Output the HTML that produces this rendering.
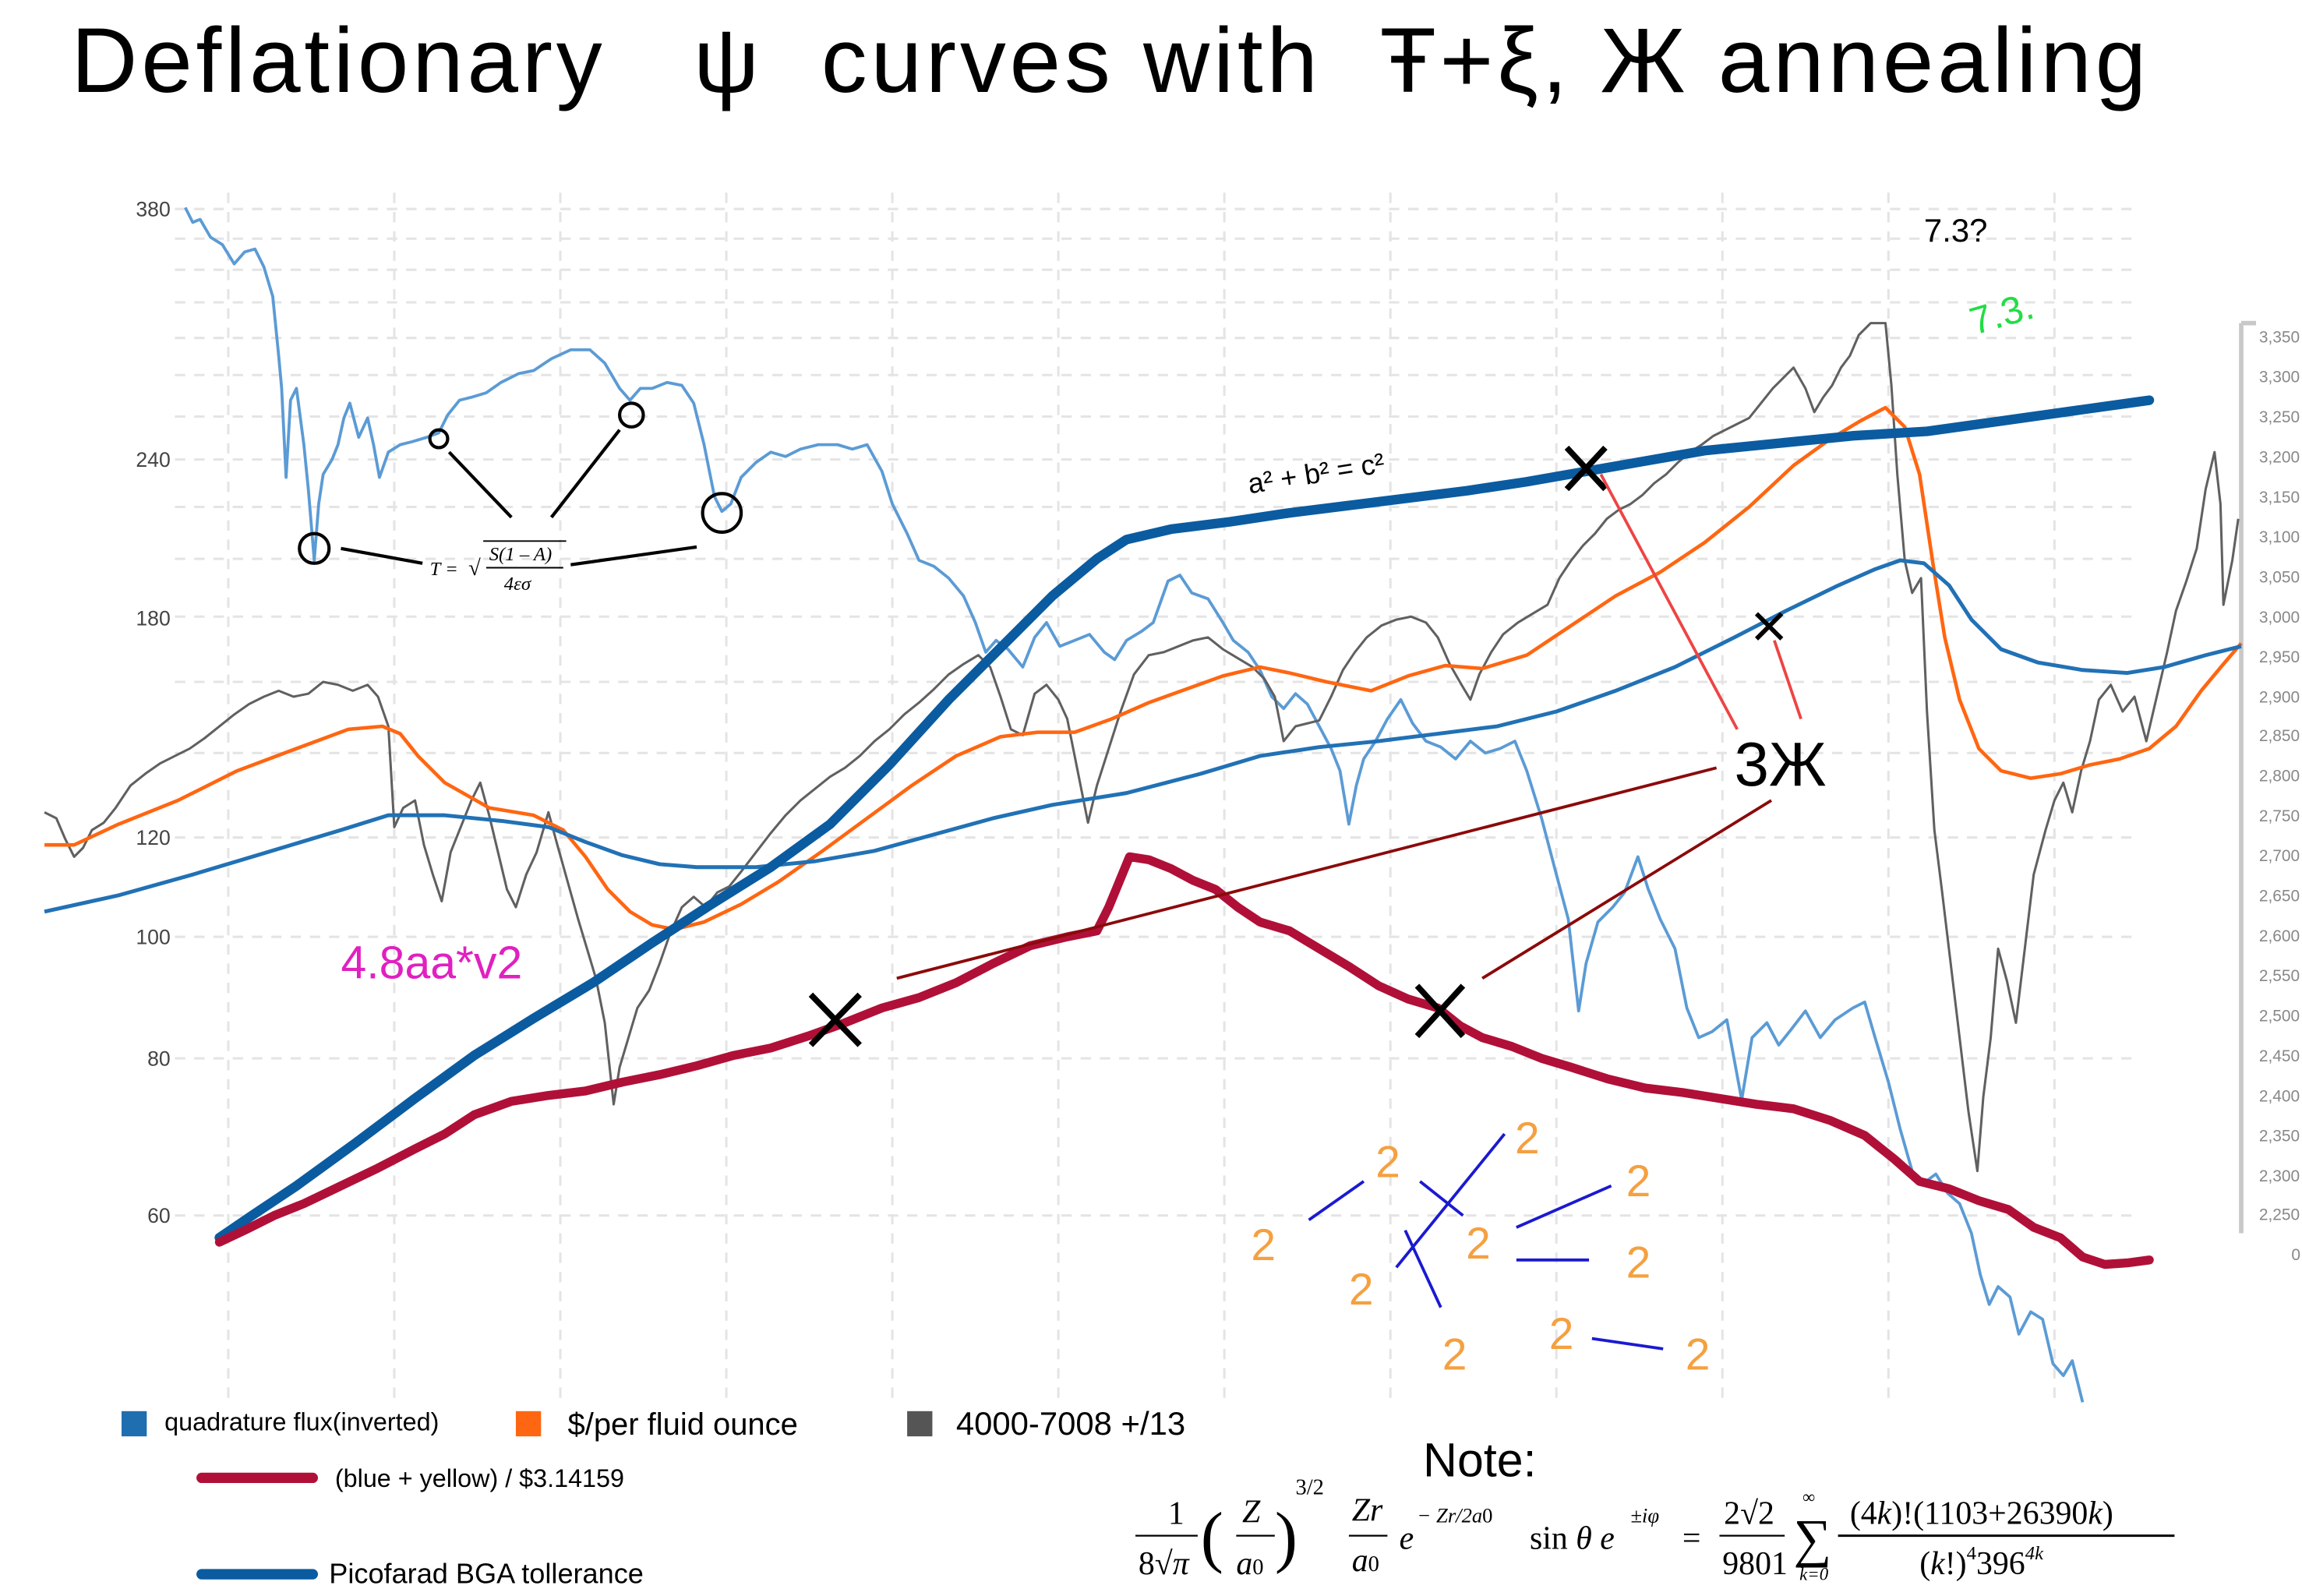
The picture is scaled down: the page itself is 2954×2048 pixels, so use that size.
<!DOCTYPE html>
<html><head><meta charset="utf-8"><style>
html,body{margin:0;padding:0;background:#fff;}
svg{display:block;}
</style></head><body>
<svg width="2954" height="2048" viewBox="0 0 1553 1076.7" xmlns="http://www.w3.org/2000/svg" font-family="'Liberation Sans', 'DejaVu Sans', sans-serif">
<rect width="1553" height="1077" fill="#fff"/>
<text x="48" y="62" font-size="62" fill="#000" xml:space="preserve" textLength="1400" lengthAdjust="spacing" style="white-space:pre">Deflationary   ψ  curves with  Ŧ+ξ, Ж annealing</text>

<g stroke="#e4e4e4" stroke-width="1.6" stroke-dasharray="7,6" fill="none">
<path d="M118 141H1440M118 161H1440M118 182H1440M118 204H1440M118 228H1440M118 253H1440M118 281H1440M118 310H1440M118 342H1440M118 377H1440M118 416H1440M118 460H1440M118 508H1440M118 565H1440M118 632H1440M118 714H1440M118 820H1440"/>
<path d="M154 130V945M266 130V945M378 130V945M490 130V945M602 130V945M714 130V945M826 130V945M938 130V945M1050 130V945M1162 130V945M1274 130V945M1386 130V945"/>
</g>

<g font-size="14" fill="#444" text-anchor="end">
<text x="115" y="146">380</text><text x="115" y="315">240</text><text x="115" y="422">180</text>
<text x="115" y="570">120</text><text x="115" y="637">100</text><text x="115" y="719">80</text><text x="115" y="825">60</text>
</g>

<path d="M1512 218V832M1512 218H1522" stroke="#c8c8c8" stroke-width="3" fill="none"/>
<g font-size="11" fill="#888">
<text x="1524" y="231">3,350</text><text x="1524" y="258">3,300</text><text x="1524" y="285">3,250</text><text x="1524" y="312">3,200</text><text x="1524" y="339">3,150</text><text x="1524" y="366">3,100</text><text x="1524" y="393">3,050</text><text x="1524" y="420">3,000</text><text x="1524" y="447">2,950</text><text x="1524" y="474">2,900</text><text x="1524" y="500">2,850</text><text x="1524" y="527">2,800</text><text x="1524" y="554">2,750</text><text x="1524" y="581">2,700</text><text x="1524" y="608">2,650</text><text x="1524" y="635">2,600</text><text x="1524" y="662">2,550</text><text x="1524" y="689">2,500</text><text x="1524" y="716">2,450</text><text x="1524" y="743">2,400</text><text x="1524" y="770">2,350</text><text x="1524" y="797">2,300</text><text x="1524" y="823">2,250</text><text x="1552" y="850" text-anchor="end">0</text>
</g>

<!-- light blue -->
<polyline fill="none" stroke="#5b9bd5" stroke-width="2" stroke-linejoin="round" points="125,140 130,150 135,148 142,160 150,165 158,178 165,170 172,168 178,180 184,200 188,240 190,262 193,322 196,270 200,262 205,300 208,330 212,378 215,340 218,320 224,310 228,300 232,282 236,272 242,295 248,282 252,300 256,322 262,305 270,300 278,298 288,295 296,292 302,280 310,270 318,268 328,265 338,258 350,252 360,250 372,242 385,236 398,236 408,245 418,262 425,270 432,262 440,262 450,258 460,260 468,272 475,300 482,335 487,345 493,340 500,322 510,312 520,305 530,308 540,303 552,300 565,300 575,303 585,300 595,318 602,340 612,360 620,378 630,382 640,390 650,402 658,420 665,440 672,432 680,438 690,450 698,430 706,420 715,436 725,432 735,428 745,440 752,445 760,432 770,426 778,420 788,392 796,388 804,400 815,404 825,420 832,432 842,440 850,452 858,470 866,478 874,468 882,475 890,490 898,505 904,520 910,556 915,530 920,512 928,500 936,485 945,472 953,488 962,500 972,504 982,512 992,500 1002,508 1012,505 1022,500 1030,520 1040,552 1050,590 1058,620 1065,682 1070,650 1078,622 1088,612 1096,602 1105,578 1112,600 1120,620 1130,640 1138,680 1146,700 1155,696 1165,688 1175,742 1182,700 1192,690 1200,705 1208,695 1218,682 1228,700 1238,688 1250,680 1258,676 1265,700 1274,730 1282,762 1290,790 1298,798 1306,792 1314,805 1322,812 1330,832 1336,860 1342,880 1348,868 1356,875 1362,900 1370,885 1378,890 1385,920 1392,928 1398,918 1405,946"/>

<!-- gray -->
<polyline fill="none" stroke="#606060" stroke-width="1.6" stroke-linejoin="round" points="30,548 38,552 44,566 50,578 56,572 62,560 70,555 78,545 88,530 98,522 108,515 118,510 128,505 138,498 148,490 158,482 168,475 178,470 188,466 198,470 208,468 218,460 228,462 238,466 248,462 255,470 262,490 266,558 272,545 280,540 286,570 292,590 298,608 304,575 310,560 318,540 324,528 330,550 336,575 342,600 348,612 355,590 362,575 370,548 376,570 383,595 390,620 396,640 402,660 408,690 414,745 418,720 424,700 430,680 438,668 445,650 452,630 460,612 468,605 476,612 484,602 492,598 500,588 510,575 520,562 530,550 540,540 550,532 560,524 570,518 580,510 590,500 600,492 610,482 620,474 630,465 640,455 650,448 660,442 668,450 675,470 682,492 690,496 698,468 706,462 714,472 720,485 727,520 734,555 740,530 748,505 756,480 765,455 775,442 785,440 795,436 805,432 815,430 825,438 835,444 845,450 853,458 860,470 866,500 874,490 882,488 890,486 898,470 906,452 914,440 922,430 932,422 942,418 952,416 962,420 970,430 978,448 986,462 992,472 998,455 1006,440 1014,428 1024,420 1034,414 1044,408 1052,390 1060,378 1068,368 1076,360 1084,350 1092,344 1100,340 1108,334 1116,326 1124,320 1132,312 1140,305 1148,300 1156,294 1164,290 1172,286 1180,282 1188,272 1196,262 1204,254 1210,248 1218,262 1224,278 1230,268 1236,260 1242,248 1248,240 1254,226 1262,218 1272,218 1276,260 1280,320 1285,378 1290,400 1296,390 1300,480 1305,560 1310,600 1316,650 1322,700 1328,750 1334,790 1338,740 1343,700 1348,640 1354,662 1360,690 1366,640 1372,590 1380,560 1386,540 1392,528 1398,548 1404,520 1410,500 1416,472 1424,462 1432,480 1440,470 1448,500 1455,470 1462,440 1468,412 1475,392 1482,370 1488,330 1494,305 1498,340 1500,408 1506,378 1510,350"/>

<!-- orange -->
<polyline fill="none" stroke="#ff6611" stroke-width="2.4" stroke-linejoin="round" points="30,570 50,570 80,556 120,540 160,520 200,505 235,492 258,490 270,495 282,510 300,528 330,545 360,550 380,560 395,578 410,600 425,615 440,624 455,627 475,622 500,610 525,595 555,574 585,552 615,530 645,510 675,497 700,494 725,494 750,485 775,474 800,465 825,456 850,450 870,454 895,460 925,466 950,456 975,449 1000,451 1030,442 1060,422 1090,402 1120,386 1150,366 1180,342 1210,314 1235,296 1255,284 1272,275 1285,288 1295,320 1304,380 1312,430 1322,472 1335,505 1350,520 1370,525 1390,522 1410,516 1430,512 1450,505 1468,490 1485,466 1500,448 1512,434"/>

<!-- dark blue thin -->
<polyline fill="none" stroke="#2171b5" stroke-width="2.6" stroke-linejoin="round" points="30,615 80,604 130,590 180,575 230,560 262,550 300,550 340,554 370,558 395,568 420,577 445,583 470,585 510,585 550,581 590,574 630,563 670,552 710,543 760,535 810,522 850,510 890,504 930,500 970,495 1010,490 1050,480 1090,466 1130,450 1170,430 1205,412 1240,395 1265,384 1282,378 1298,380 1315,395 1330,418 1350,438 1375,447 1405,452 1435,454 1460,450 1488,442 1512,436"/>

<!-- thick blue -->
<polyline fill="none" stroke="#0b5ba0" stroke-width="6.5" stroke-linejoin="round" stroke-linecap="round" points="148,835 170,820 200,800 240,771 280,741 320,712 360,687 400,663 440,636 480,610 520,585 560,556 600,516 640,472 680,432 710,402 740,377 760,364 790,357 830,352 870,346 910,341 950,336 990,331 1030,325 1070,318 1110,311 1150,304 1200,299 1250,294 1300,291 1350,284 1400,277 1450,270"/>

<!-- crimson -->
<polyline fill="none" stroke="#b01038" stroke-width="6" stroke-linejoin="round" stroke-linecap="round" points="148,838 165,830 185,820 205,812 230,800 255,788 280,775 300,765 320,752 345,743 370,739 395,736 420,730 445,725 470,719 495,712 520,707 545,699 570,690 595,680 620,673 645,663 670,650 695,638 720,632 740,628 748,612 755,595 762,578 775,580 790,586 805,594 820,600 835,612 850,622 870,628 890,640 910,652 930,665 950,674 970,680 985,692 1000,700 1020,706 1040,714 1060,720 1085,728 1110,734 1135,737 1160,741 1185,745 1210,748 1235,756 1258,766 1278,782 1295,797 1315,802 1335,810 1355,816 1372,828 1390,835 1405,848 1420,853 1435,852 1450,850"/>

<!-- annotations -->
<g stroke="#000" stroke-width="2.2" fill="none">
<circle cx="212" cy="370" r="10"/><circle cx="296" cy="296" r="6"/><circle cx="426" cy="280" r="8"/><circle cx="487" cy="346" r="13"/>
<path d="M230 370L285 380M303 305L345 349M418 290L372 349M385 381L470 369"/>
</g>
<text x="290" y="388" font-family="'Liberation Serif',serif" font-style="italic" font-size="13">T =</text>
<text x="316" y="388" font-family="'Liberation Serif',serif" font-size="15">√</text>
<line x1="326" y1="365" x2="382" y2="365" stroke="#000" stroke-width="1"/>
<text x="330" y="378" font-family="'Liberation Serif',serif" font-style="italic" font-size="13">S(1 – A)</text>
<line x1="328" y1="383" x2="380" y2="383" stroke="#000" stroke-width="1"/>
<text x="340" y="398" font-family="'Liberation Serif',serif" font-style="italic" font-size="13">4εσ</text>

<g stroke="#000" stroke-width="4">
<path d="M547 671L580 705M580 671L547 705"/><path d="M956 665L987 699M987 665L956 699"/>
<path d="M1057 302L1083 330M1083 302L1057 330"/><path d="M1185 414L1202 431M1202 414L1185 431" stroke-width="3"/>
</g>
<g stroke-width="2" fill="none">
<path d="M605 660L1158 518M1000 660L1195 540" stroke="#8b0a0a"/>
<path d="M1080 320L1172 492M1197 432L1215 485" stroke="#ee4444"/>
</g>
<text x="1170" y="530" font-size="42" fill="#000">3Ж</text>
<text x="843" y="333" font-size="19" fill="#000" transform="rotate(-9 843 333)">a² + b² = c²</text>
<text x="1298" y="163" font-size="22" fill="#000">7.3?</text>
<text x="1332" y="226" font-size="26" fill="#22dd44" transform="rotate(-16 1332 226)">7.3.</text>
<text x="230" y="660" font-size="31" fill="#e020c0">4.8aa*v2</text>

<g font-size="30" fill="#f5a040">
<text x="844" y="850">2</text><text x="928" y="794">2</text><text x="989" y="849">2</text><text x="910" y="880">2</text><text x="973" y="924">2</text><text x="1022" y="778">2</text><text x="1097" y="807">2</text><text x="1097" y="862">2</text><text x="1045" y="910">2</text><text x="1137" y="924">2</text>
</g>
<g stroke="#1a1ad0" stroke-width="2">
<path d="M883 823L920 797M958 797L987 820M942 855L1015 765M948 830L972 882M1023 828L1087 800M1023 850L1072 850M1074 903L1122 910"/>
</g>

<!-- legend -->
<rect x="82" y="952" width="17" height="17" fill="#1f6eb0"/>
<text x="111" y="965" font-size="17" fill="#000">quadrature flux(inverted)</text>
<rect x="348" y="952" width="17" height="17" fill="#ff6611"/>
<text x="383" y="968" font-size="21" fill="#000">$/per fluid ounce</text>
<rect x="612" y="952" width="17" height="17" fill="#555"/>
<text x="645" y="968" font-size="22" fill="#000">4000-7008 +/13</text>
<line x1="136" y1="997" x2="211" y2="997" stroke="#b01038" stroke-width="7" stroke-linecap="round"/>
<text x="226" y="1003" font-size="17" fill="#000">(blue + yellow) / $3.14159</text>
<line x1="136" y1="1062" x2="211" y2="1062" stroke="#0b5ba0" stroke-width="7" stroke-linecap="round"/>
<text x="222" y="1068" font-size="19" fill="#000">Picofarad BGA tollerance</text>

<text x="960" y="996" font-size="32" fill="#000">Note:</text>
<g font-family="'Liberation Serif',serif" font-size="22" fill="#000">
<text x="788" y="1028">1</text><line x1="766" y1="1036" x2="808" y2="1036" stroke="#000" stroke-width="1.2"/>
<text x="768" y="1062">8√<tspan font-style="italic">π</tspan></text>
<text x="810" y="1052" font-size="46" font-weight="100">(</text>
<text x="838" y="1027" font-style="italic">Z</text><line x1="834" y1="1036" x2="860" y2="1036" stroke="#000" stroke-width="1.2"/>
<text x="834" y="1062" font-style="italic">a<tspan font-size="15" font-style="normal">0</tspan></text>
<text x="860" y="1052" font-size="46">)</text>
<text x="874" y="1008" font-size="15">3/2</text>
<text x="912" y="1026" font-style="italic">Zr</text><line x1="910" y1="1036" x2="936" y2="1036" stroke="#000" stroke-width="1.2"/>
<text x="912" y="1060" font-style="italic">a<tspan font-size="15" font-style="normal">0</tspan></text>
<text x="944" y="1045" font-style="italic">e</text>
<text x="956" y="1027" font-size="14" font-style="italic">− Zr/2a<tspan font-style="normal">0</tspan></text>
<text x="1032" y="1045">sin <tspan font-style="italic">θ e</tspan></text>
<text x="1100" y="1027" font-size="14" font-style="italic">±iφ</text>
<text x="1135" y="1045">=</text>
<text x="1163" y="1028">2√2</text><line x1="1160" y1="1036" x2="1204" y2="1036" stroke="#000" stroke-width="1.2"/>
<text x="1162" y="1062">9801</text>
<text x="1210" y="1050" font-size="36">∑</text>
<text x="1216" y="1014" font-size="12">∞</text>
<text x="1214" y="1066" font-size="12" font-style="italic">k=0</text>
<text x="1248" y="1028">(4<tspan font-style="italic">k</tspan>)!(1103+26390<tspan font-style="italic">k</tspan>)</text>
<line x1="1240" y1="1036" x2="1467" y2="1036" stroke="#000" stroke-width="1.6"/>
<text x="1295" y="1062">(<tspan font-style="italic">k</tspan>!)<tspan font-size="13" dy="-10">4</tspan><tspan dy="10">396</tspan><tspan font-size="13" dy="-10" font-style="italic">4k</tspan></text>
</g>
</svg>
</body></html>
